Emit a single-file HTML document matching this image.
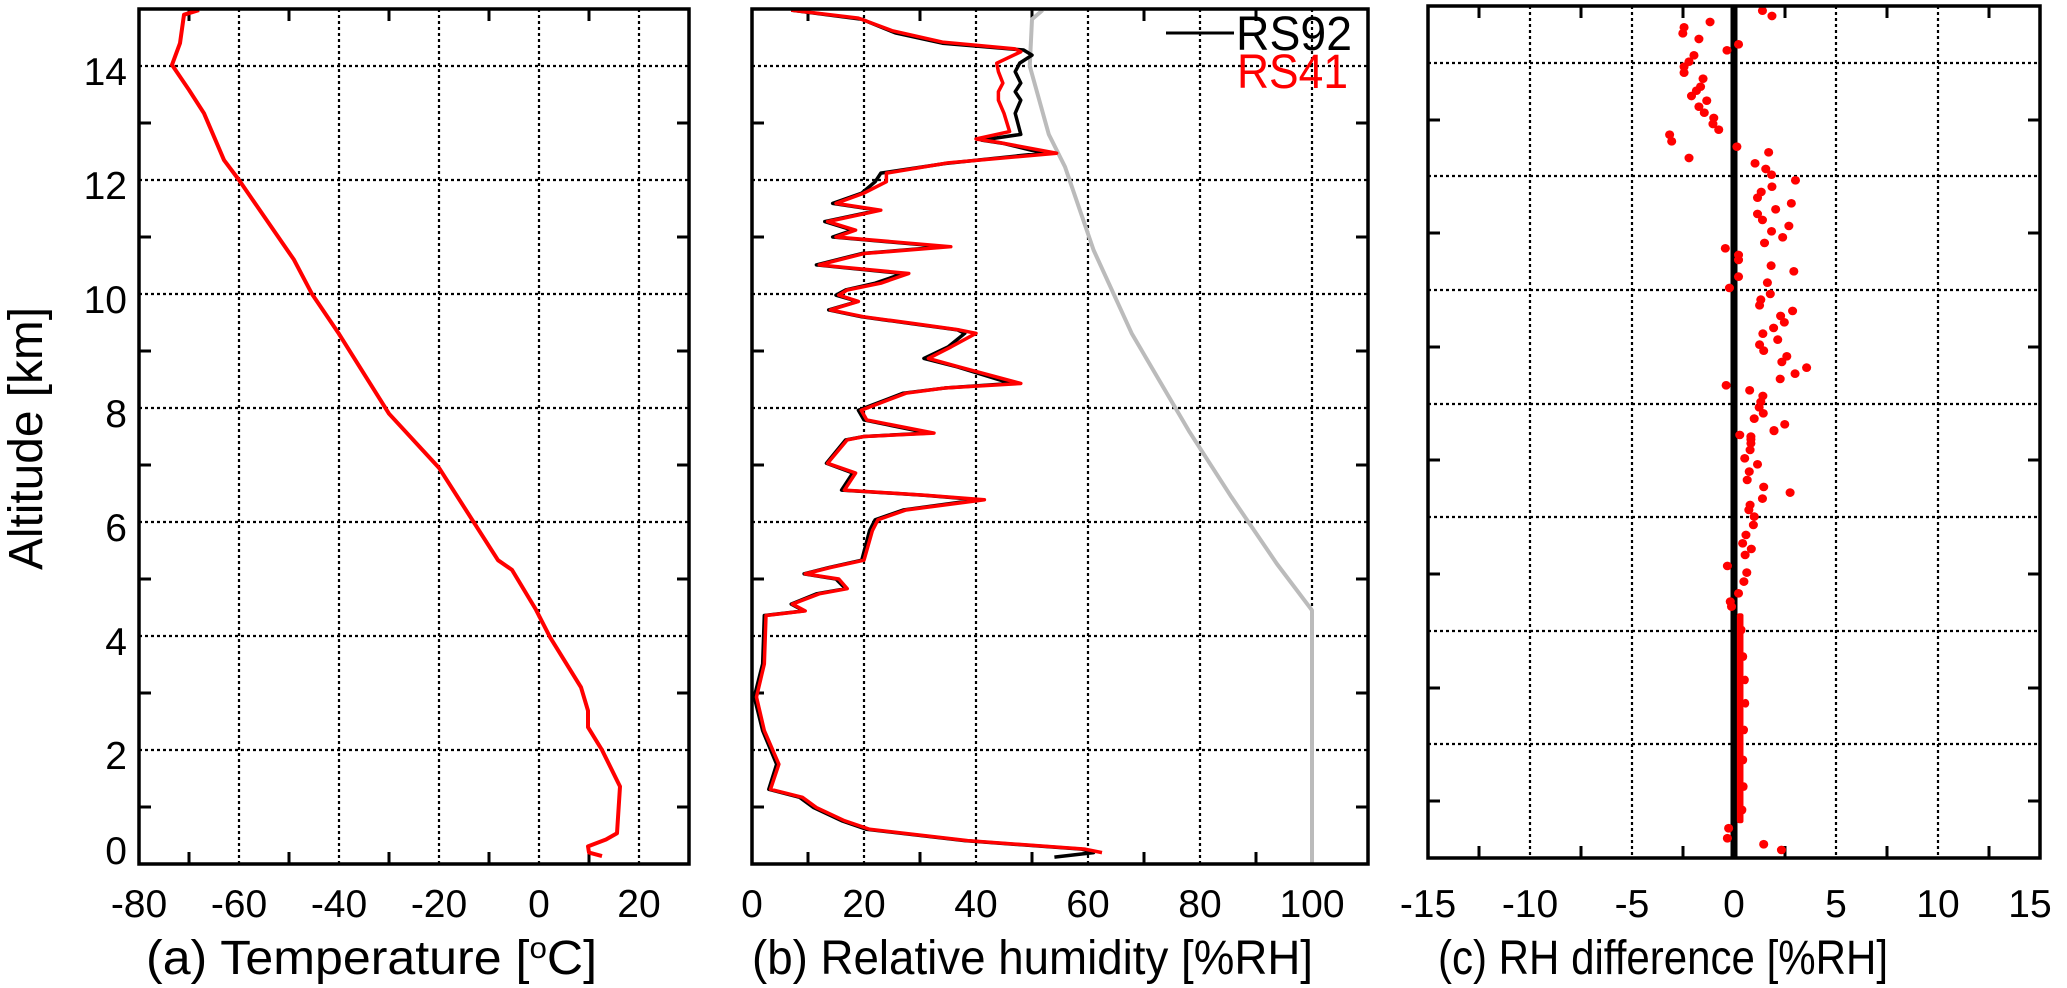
<!DOCTYPE html>
<html><head><meta charset="utf-8"><style>html,body{margin:0;padding:0;background:#fff}svg{display:block}</style></head>
<body>
<svg width="2067" height="988" viewBox="0 0 2067 988" xmlns="http://www.w3.org/2000/svg" font-family="Liberation Sans, sans-serif">
<rect width="2067" height="988" fill="#fff"/>
<g stroke="#000" stroke-width="2.2" stroke-dasharray="3 3" fill="none">
<path d="M239 9V864M339 9V864M439 9V864M539 9V864M639 9V864 M139 750H689M139 636H689M139 522H689M139 408H689M139 294H689M139 180H689M139 66H689"/>
<path d="M864 9V864M976 9V864M1088 9V864M1200 9V864M1312 9V864 M752 750H1368M752 636H1368M752 522H1368M752 408H1368M752 294H1368M752 180H1368M752 66H1368"/>
<path d="M1530 6V858M1632 6V858M1734 6V858M1836 6V858M1938 6V858 M1428 744H2040M1428 631H2040M1428 517H2040M1428 404H2040M1428 290H2040M1428 176H2040M1428 63H2040"/>
</g>
<g stroke="#000" stroke-width="3" fill="none">
<path d="M189 864v-12M289 864v-12M389 864v-12M489 864v-12M589 864v-12M189 9v12M289 9v12M389 9v12M489 9v12M589 9v12 M139 807h12M139 693h12M139 579h12M139 465h12M139 351h12M139 237h12M139 123h12M689 807h-12M689 693h-12M689 579h-12M689 465h-12M689 351h-12M689 237h-12M689 123h-12"/>
<path d="M808 864v-12M920 864v-12M1032 864v-12M1144 864v-12M1256 864v-12M808 9v12M920 9v12M1032 9v12M1144 9v12M1256 9v12 M752 807h12M752 693h12M752 579h12M752 465h12M752 351h12M752 237h12M752 123h12M1368 807h-12M1368 693h-12M1368 579h-12M1368 465h-12M1368 351h-12M1368 237h-12M1368 123h-12"/>
<path d="M1479 858v-12M1581 858v-12M1683 858v-12M1785 858v-12M1887 858v-12M1989 858v-12M1479 6v12M1581 6v12M1683 6v12M1785 6v12M1887 6v12M1989 6v12 M1428 801h12M1428 688h12M1428 574h12M1428 460h12M1428 347h12M1428 233h12M1428 120h12M2040 801h-12M2040 688h-12M2040 574h-12M2040 460h-12M2040 347h-12M2040 233h-12M2040 120h-12"/>
</g>
<g transform="matrix(5 0 0 -57 539 864)">
<polyline vector-effect="non-scaling-stroke" fill="none" stroke="#f00" stroke-width="4" stroke-linejoin="round" points="-68,14.98 -71,14.9 -71.8,14.4 -73.4,14.02 -70,13.58 -67,13.17 -63,12.35 -60,12 -49,10.6 -45.4,10 -40,9.3 -30,7.9 -20,6.95 -8.2,5.33 -5.4,5.16 -0.6,4.46 2.2,3.98 8.4,3.1 9.8,2.69 9.8,2.4 12.6,2.0 16.2,1.36 15.6,0.54 13.4,0.43 9.8,0.31 10,0.2 12.6,0.14"/>
</g>
<g transform="matrix(5.6 0 0 -57 752 864)" fill="none" stroke-linejoin="round">
<polyline vector-effect="non-scaling-stroke" stroke="#bbb" stroke-width="4" points="51.9,14.98 50,14.82 49.6,14.0 53,12.8 55.9,12.23 61,10.77 67.8,9.31 78,7.6 85.6,6.44 93.7,5.27 100,4.45 100,0"/>
<polyline vector-effect="non-scaling-stroke" stroke="#000" stroke-width="3.5" points="7,14.98 19.6,14.82 25.6,14.58 34,14.4 48.5,14.28 50,14.19 47.8,14.05 47,13.9 48,13.7 47,13.55 48,13.4 47,13.17 48,12.8 41,12.7 45,12.64 52,12.47 34.5,12.29 23,12.12 22,11.97 19.6,11.77 14.4,11.59 22.6,11.47 13,11.27 18,11.12 14.4,11.0 34.4,10.83 19.6,10.71 11.5,10.51 27,10.36 22,10.19 16.7,10.07 15,9.98 18.9,9.87 13.7,9.72 19.6,9.6 28.5,9.48 36.7,9.37 38,9.31 35,9.07 30.7,8.87 36.7,8.72 46.3,8.43 34.4,8.35 27,8.26 19,7.96 20,7.79 31.5,7.56 20,7.5 16.7,7.44 13.3,7.03 18,6.86 16,6.56 30.7,6.47 40.4,6.39 27,6.21 22,6.04 21,5.85 19.6,5.33 13.7,5.2 9.3,5.09 15,5.0 16.7,4.83 11.5,4.74 7,4.56 9.3,4.44 2.2,4.36 1.9,3.51 0.4,2.93 1.9,2.34 4.4,1.75 3,1.31 8.5,1.17 11,0.99 16,0.76 20.4,0.61 38,0.41 58.9,0.26 61,0.2 54,0.12"/>
<polyline vector-effect="non-scaling-stroke" stroke="#f00" stroke-width="3.5" points="7,14.98 19,14.84 25,14.62 34,14.42 47,14.3 48,14.25 43.7,14.05 44,13.9 44.8,13.7 44,13.55 44,13.4 45,13.17 46,12.85 40,12.72 44,12.66 54.4,12.47 35,12.3 24,12.12 24,11.97 20,11.77 15,11.59 23,11.47 13.5,11.27 18.5,11.12 15,11.0 35.5,10.83 20,10.71 12,10.51 28,10.36 23,10.19 17,10.07 15.5,9.98 19,9.87 14,9.72 20,9.6 29,9.48 37,9.37 40,9.31 35.5,9.07 31.5,8.87 37,8.72 48,8.43 34.4,8.35 27.5,8.26 19.5,7.96 20.5,7.79 32.5,7.56 20,7.5 17,7.44 13.5,7.03 18.5,6.86 16.5,6.56 31,6.47 41.5,6.39 27.5,6.21 22.5,6.04 21.5,5.85 20,5.33 14,5.2 9.5,5.09 15.5,5.0 17,4.83 12,4.74 7.2,4.56 9.5,4.44 2.5,4.36 2.2,3.51 0.8,2.93 2.2,2.34 4.8,1.75 3.3,1.31 9,1.17 11.5,0.99 16.5,0.76 21,0.61 38.5,0.41 59.5,0.26 62.5,0.2"/>
</g>
<line x1="1734" y1="6" x2="1734" y2="858" stroke="#000" stroke-width="7"/>
<g transform="matrix(0.4126 0 0 0.3333 1420 0)" fill="#f00">
<g>
<ellipse cx="830" cy="32" rx="11" ry="13"/><ellipse cx="853" cy="48" rx="11" ry="13"/><ellipse cx="703" cy="66" rx="11" ry="13"/><ellipse cx="640" cy="82" rx="11" ry="13"/><ellipse cx="637" cy="100" rx="11" ry="13"/><ellipse cx="676" cy="117" rx="11" ry="13"/><ellipse cx="772" cy="133" rx="11" ry="13"/><ellipse cx="744" cy="151" rx="11" ry="13"/><ellipse cx="664" cy="166" rx="11" ry="13"/><ellipse cx="652" cy="185" rx="11" ry="13"/><ellipse cx="640" cy="200" rx="11" ry="13"/><ellipse cx="640" cy="218" rx="11" ry="13"/><ellipse cx="686" cy="236" rx="11" ry="13"/><ellipse cx="680" cy="260" rx="11" ry="13"/><ellipse cx="670" cy="272" rx="11" ry="13"/><ellipse cx="658" cy="288" rx="11" ry="13"/><ellipse cx="695" cy="302" rx="11" ry="13"/><ellipse cx="676" cy="320" rx="11" ry="13"/><ellipse cx="689" cy="338" rx="11" ry="13"/><ellipse cx="712" cy="354" rx="11" ry="13"/><ellipse cx="710" cy="372" rx="11" ry="13"/><ellipse cx="724" cy="389" rx="11" ry="13"/><ellipse cx="605" cy="404" rx="11" ry="13"/><ellipse cx="610" cy="424" rx="11" ry="13"/><ellipse cx="768" cy="440" rx="11" ry="13"/><ellipse cx="845" cy="457" rx="11" ry="13"/><ellipse cx="652" cy="474" rx="11" ry="13"/><ellipse cx="812" cy="490" rx="11" ry="13"/><ellipse cx="838" cy="507" rx="11" ry="13"/><ellipse cx="852" cy="524" rx="11" ry="13"/><ellipse cx="910" cy="541" rx="11" ry="13"/><ellipse cx="853" cy="560" rx="11" ry="13"/><ellipse cx="827" cy="576" rx="11" ry="13"/><ellipse cx="818" cy="593" rx="11" ry="13"/><ellipse cx="900" cy="610" rx="11" ry="13"/><ellipse cx="862" cy="628" rx="11" ry="13"/><ellipse cx="818" cy="642" rx="11" ry="13"/><ellipse cx="830" cy="660" rx="11" ry="13"/><ellipse cx="894" cy="678" rx="11" ry="13"/><ellipse cx="852" cy="694" rx="11" ry="13"/><ellipse cx="879" cy="712" rx="11" ry="13"/><ellipse cx="835" cy="729" rx="11" ry="13"/><ellipse cx="740" cy="745" rx="11" ry="13"/><ellipse cx="772" cy="765" rx="11" ry="13"/><ellipse cx="772" cy="780" rx="11" ry="13"/><ellipse cx="851" cy="797" rx="11" ry="13"/><ellipse cx="906" cy="814" rx="11" ry="13"/><ellipse cx="772" cy="830" rx="11" ry="13"/><ellipse cx="842" cy="848" rx="11" ry="13"/><ellipse cx="750" cy="864" rx="11" ry="13"/><ellipse cx="849" cy="882" rx="11" ry="13"/><ellipse cx="826" cy="899" rx="11" ry="13"/><ellipse cx="823" cy="916" rx="11" ry="13"/><ellipse cx="903" cy="933" rx="11" ry="13"/><ellipse cx="874" cy="948" rx="11" ry="13"/><ellipse cx="883" cy="967" rx="11" ry="13"/><ellipse cx="857" cy="984" rx="11" ry="13"/><ellipse cx="831" cy="1001" rx="11" ry="13"/><ellipse cx="867" cy="1019" rx="11" ry="13"/><ellipse cx="823" cy="1034" rx="11" ry="13"/><ellipse cx="833" cy="1052" rx="11" ry="13"/><ellipse cx="889" cy="1069" rx="11" ry="13"/><ellipse cx="877" cy="1086" rx="11" ry="13"/><ellipse cx="937" cy="1103" rx="11" ry="13"/><ellipse cx="909" cy="1121" rx="11" ry="13"/><ellipse cx="873" cy="1137" rx="11" ry="13"/><ellipse cx="742" cy="1156" rx="11" ry="13"/><ellipse cx="799" cy="1171" rx="11" ry="13"/><ellipse cx="831" cy="1188" rx="11" ry="13"/><ellipse cx="826" cy="1206" rx="11" ry="13"/><ellipse cx="822" cy="1222" rx="11" ry="13"/><ellipse cx="832" cy="1240" rx="11" ry="13"/><ellipse cx="810" cy="1256" rx="11" ry="13"/><ellipse cx="884" cy="1273" rx="11" ry="13"/><ellipse cx="858" cy="1291" rx="11" ry="13"/><ellipse cx="775" cy="1305" rx="11" ry="13"/><ellipse cx="802" cy="1318" rx="11" ry="13"/>
</g>
<g transform="translate(0 1290)">
<ellipse cx="858" cy="3" rx="11" ry="13"/><ellipse cx="802" cy="20" rx="11" ry="13"/><ellipse cx="802" cy="40" rx="11" ry="13"/><ellipse cx="800" cy="60" rx="11" ry="13"/><ellipse cx="787" cy="85" rx="11" ry="13"/><ellipse cx="818" cy="103" rx="11" ry="13"/><ellipse cx="798" cy="125" rx="11" ry="13"/><ellipse cx="793" cy="150" rx="11" ry="13"/><ellipse cx="833" cy="171" rx="11" ry="13"/><ellipse cx="897" cy="188" rx="11" ry="13"/><ellipse cx="830" cy="206" rx="11" ry="13"/><ellipse cx="800" cy="225" rx="11" ry="13"/><ellipse cx="797" cy="240" rx="11" ry="13"/><ellipse cx="810" cy="260" rx="11" ry="13"/><ellipse cx="808" cy="285" rx="11" ry="13"/><ellipse cx="790" cy="315" rx="11" ry="13"/><ellipse cx="782" cy="340" rx="11" ry="13"/><ellipse cx="803" cy="357" rx="11" ry="13"/><ellipse cx="788" cy="375" rx="11" ry="13"/><ellipse cx="745" cy="408" rx="11" ry="13"/><ellipse cx="792" cy="428" rx="11" ry="13"/><ellipse cx="785" cy="455" rx="11" ry="13"/><ellipse cx="772" cy="490" rx="11" ry="13"/><ellipse cx="752" cy="515" rx="11" ry="13"/><ellipse cx="755" cy="530" rx="11" ry="13"/>
<rect x="768" y="550" width="16" height="630" rx="6"/>
<ellipse cx="780" cy="600" rx="9" ry="13"/><ellipse cx="784" cy="680" rx="9" ry="13"/><ellipse cx="788" cy="750" rx="9" ry="13"/><ellipse cx="789" cy="820" rx="9" ry="13"/><ellipse cx="786" cy="900" rx="9" ry="13"/><ellipse cx="784" cy="990" rx="9" ry="13"/><ellipse cx="785" cy="1070" rx="9" ry="13"/><ellipse cx="782" cy="1140" rx="9" ry="13"/>
<ellipse cx="748" cy="1195" rx="11" ry="13"/><ellipse cx="745" cy="1225" rx="11" ry="13"/><ellipse cx="833" cy="1243" rx="11" ry="13"/><ellipse cx="876" cy="1260" rx="11" ry="13"/>
</g>
</g>
<g fill="none" stroke="#000" stroke-width="3.5">
<rect x="139" y="9" width="550" height="855"/>
<rect x="752" y="9" width="616" height="855"/>
<rect x="1428" y="6" width="612" height="852"/>
</g>
<line x1="1166" y1="33" x2="1234" y2="33" stroke="#000" stroke-width="3"/>
<text x="1236" y="50" font-size="48" fill="#000" textLength="116" lengthAdjust="spacingAndGlyphs">RS92</text>
<text x="1237" y="88" font-size="48" fill="#f00" textLength="111" lengthAdjust="spacingAndGlyphs">RS41</text>
<g font-size="39" fill="#000" text-anchor="end">
<text x="127" y="864">0</text><text x="127" y="769">2</text><text x="127" y="655">4</text><text x="127" y="541">6</text><text x="127" y="427">8</text><text x="127" y="313">10</text><text x="127" y="199">12</text><text x="127" y="85">14</text>
</g>
<g font-size="39" fill="#000" text-anchor="middle">
<text x="139" y="917">-80</text><text x="239" y="917">-60</text><text x="339" y="917">-40</text><text x="439" y="917">-20</text><text x="539" y="917">0</text><text x="639" y="917">20</text>
<text x="752" y="917">0</text><text x="864" y="917">20</text><text x="976" y="917">40</text><text x="1088" y="917">60</text><text x="1200" y="917">80</text><text x="1312" y="917">100</text>
<text x="1428" y="917">-15</text><text x="1530" y="917">-10</text><text x="1632" y="917">-5</text><text x="1734" y="917">0</text><text x="1836" y="917">5</text><text x="1938" y="917">10</text><text x="2030" y="917">15</text>
</g>
<g font-size="48" fill="#000">
<text x="146" y="974" textLength="451" lengthAdjust="spacingAndGlyphs">(a)  Temperature [<tspan font-size="30" dy="-16">o</tspan><tspan dy="16">C]</tspan></text>
<text x="752" y="974" textLength="561" lengthAdjust="spacingAndGlyphs">(b)  Relative humidity [%RH]</text>
<text x="1438" y="974" textLength="450" lengthAdjust="spacingAndGlyphs">(c)  RH difference [%RH]</text>
<text transform="translate(42 570) rotate(-90)" textLength="263" lengthAdjust="spacingAndGlyphs">Altitude [km]</text>
</g>
</svg>
</body></html>
